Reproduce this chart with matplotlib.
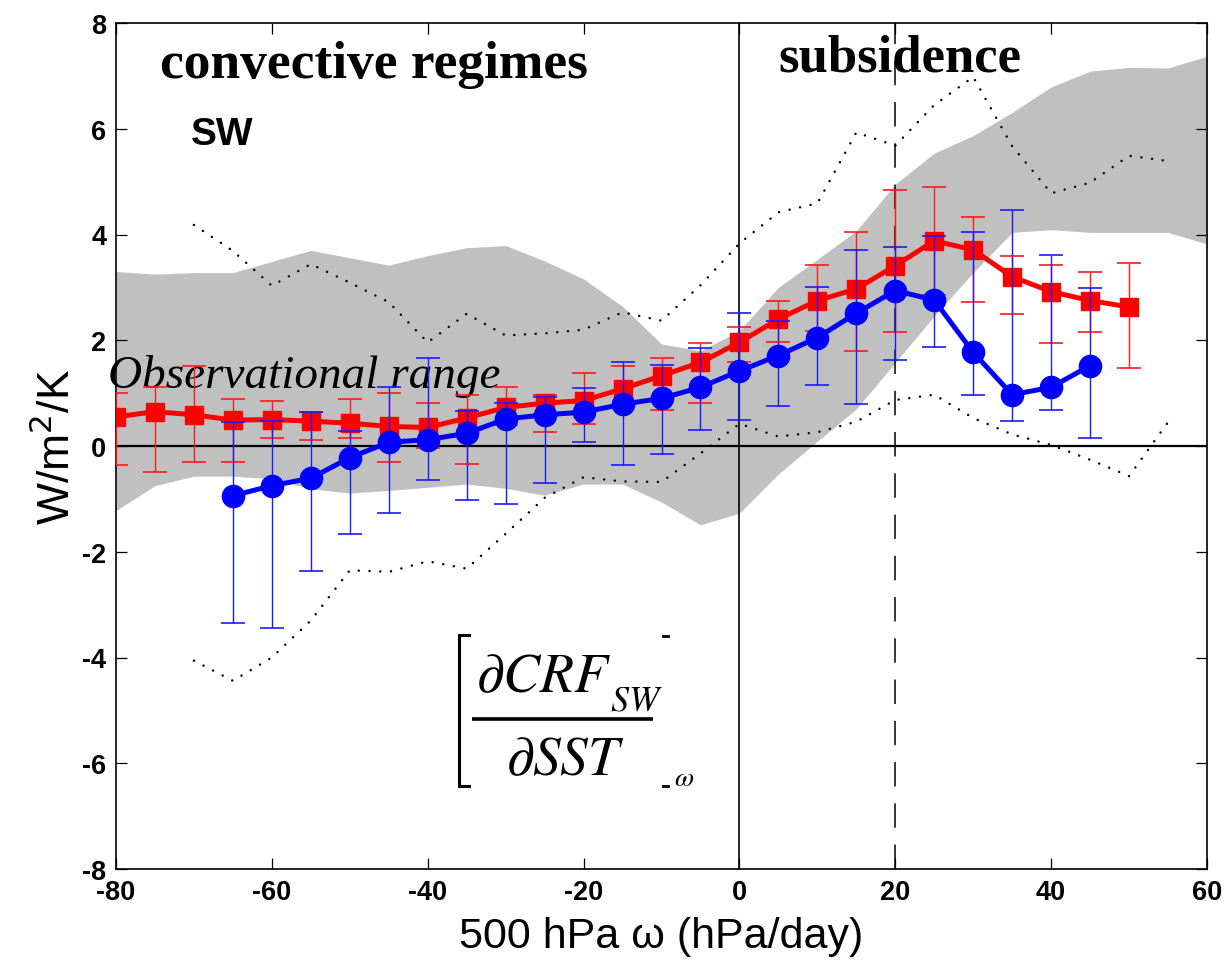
import numpy as np
import matplotlib
matplotlib.use("Agg")
import matplotlib.pyplot as plt

# ---------------- data ----------------
x_red = [-80, -75, -70, -65, -60, -55, -50, -45, -40, -35, -30, -25, -20, -15,
         -10, -5, 0, 5, 10, 15, 20, 25, 30, 35, 40, 45, 50]
red = [0.55, 0.65, 0.59, 0.49, 0.50, 0.47, 0.43, 0.37, 0.35, 0.53, 0.73, 0.81, 0.86, 1.08,
       1.33, 1.58, 1.96, 2.40, 2.75, 2.97, 3.41, 3.88, 3.71, 3.20, 2.92, 2.75, 2.63]
red_hi = [1.00, 1.12, 1.52, 0.89, 0.86, 0.65, 0.88, 1.00, 0.81, 0.97, 1.12, 0.96, 1.39, 1.51,
          1.67, 1.95, 2.26, 2.75, 3.43, 4.04, 4.85, 4.90, 4.33, 3.59, 3.43, 3.30, 3.47]
red_lo = [-0.36, -0.49, -0.31, -0.30, 0.15, 0.12, 0.16, -0.31, -0.04, -0.34, 0.40, 0.27, 0.41, 0.76,
          0.68, 0.81, 1.58, 1.97, 2.17, 1.80, 2.15, 2.85, 2.73, 2.50, 1.95, 2.15, 1.47]

x_blue = [-65, -60, -55, -50, -45, -40, -35, -30, -25, -20, -15, -10, -5, 0,
          5, 10, 15, 20, 25, 30, 35, 40, 45]
blue = [-0.94, -0.75, -0.61, -0.22, 0.07, 0.12, 0.24, 0.51, 0.59, 0.64, 0.79, 0.90, 1.11, 1.42,
        1.71, 2.05, 2.51, 2.94, 2.76, 1.77, 0.97, 1.11, 1.52]
blue_hi = [0.46, 0.48, 0.65, 0.29, 1.12, 1.67, 0.66, 0.81, 0.93, 1.09, 1.58, 1.53, 1.86, 2.52,
           2.36, 3.01, 3.71, 3.77, 3.98, 4.04, 4.47, 3.61, 2.98]
blue_lo = [-3.35, -3.45, -2.36, -1.67, -1.27, -0.64, -1.02, -1.10, -0.70, 0.08, -0.35, -0.16, 0.31, 0.49,
           0.76, 1.16, 0.79, 1.63, 1.87, 0.96, 0.48, 0.69, 0.16]

x_band = [-80, -75, -70, -65, -60, -55, -50, -45, -40, -35, -30, -25, -20, -15, -10,
          -5, 0, 5, 10, 15, 20, 25, 30, 35, 40, 45, 50, 55, 60]
band_hi = [3.30, 3.25, 3.28, 3.28, 3.49, 3.70, 3.56, 3.42, 3.60, 3.75, 3.79, 3.50, 3.16, 2.64, 1.93,
           1.80, 2.18, 3.00, 3.53, 4.07, 4.95, 5.54, 5.87, 6.31, 6.79, 7.09, 7.16, 7.15, 7.37]
band_lo = [-1.22, -0.75, -0.57, -0.57, -0.62, -0.81, -0.89, -0.84, -0.78, -0.72, -0.80, -0.93, -0.72, -0.72, -1.06,
           -1.49, -1.27, -0.53, 0.09, 0.70, 1.58, 2.46, 3.28, 4.04, 4.09, 4.04, 4.04, 4.04, 3.82]

x_dot = [-70, -65, -60, -55, -50, -45, -40, -35, -30, -25, -20, -15, -10,
         -5, 0, 5, 10, 15, 20, 25, 30, 35, 40, 45, 50, 55]
dot_hi = [4.18, 3.69, 3.03, 3.44, 3.09, 2.72, 1.96, 2.50, 2.09, 2.13, 2.20, 2.53, 2.37,
          3.04, 3.83, 4.42, 4.59, 5.93, 5.68, 6.45, 6.98, 5.67, 4.78, 4.98, 5.49, 5.39]
dot_lo = [-4.06, -4.44, -4.00, -3.30, -2.35, -2.38, -2.18, -2.32, -1.66, -0.98, -0.59, -0.67, -0.68,
          -0.14, 0.42, 0.18, 0.26, 0.46, 0.87, 0.97, 0.53, 0.22, 0.02, -0.26, -0.57, 0.45]

x_ticks = [-80, -60, -40, -20, 0, 20, 40, 60]
y_ticks = [-8, -6, -4, -2, 0, 2, 4, 6, 8]

# ---------------- figure ----------------
plt.rcParams['font.family'] = ['Liberation Sans', 'DejaVu Sans']
plt.rcParams['axes.unicode_minus'] = False
fig = plt.figure(figsize=(12.27, 9.62), dpi=100)
ax = fig.add_axes([116 / 1227, 1 - 870 / 962, 1091 / 1227, 846 / 962])


def P(px, py):
    """pixel position (from top-left of figure) -> axes fraction"""
    return (px - 116) / 1091, (870 - py) / 846


ax.fill_between(x_band, band_lo, band_hi, color='#c0c0c0', lw=0, zorder=1)
for yy in (dot_hi, dot_lo):
    ax.plot(x_dot, yy, color='black', lw=1.8, ls=(0, (0.01, 4.3)),
            dash_capstyle='round', zorder=2)

ax.axhline(0, color='black', lw=1.6, zorder=3)
ax.axvline(0, color='black', lw=1.2, zorder=3)
ax.axvline(20, color='black', lw=1.1, dashes=(16, 11), zorder=3)

red_a = np.array(red)
blue_a = np.array(blue)
ax.errorbar(x_red, red, yerr=[red_a - np.array(red_lo), np.array(red_hi) - red_a],
            fmt='none', ecolor='#ff1a1a', elinewidth=1.0, capsize=8.5, capthick=1.2, zorder=4)
ax.plot(x_red, red, color='#ff0000', lw=3.6, marker='s', ms=13, mec='#ff0000', zorder=5)
ax.errorbar(x_blue, blue, yerr=[blue_a - np.array(blue_lo), np.array(blue_hi) - blue_a],
            fmt='none', ecolor='#1a1aff', elinewidth=1.0, capsize=8.5, capthick=1.2, zorder=6)
ax.plot(x_blue, blue, color='#0000ff', lw=3.6, marker='o', ms=16, mec='#0000ff', zorder=7)

ax.set_xlim(-80, 60)
ax.set_ylim(-8, 8)
ax.set_xticks(x_ticks)
ax.set_yticks(y_ticks)
ax.tick_params(direction='in', length=8, width=0.9, top=True, right=True,
               labelsize=19.5, pad=7)
for lab in ax.get_xticklabels() + ax.get_yticklabels():
    lab.set_fontweight('bold')
for s in ax.spines.values():
    s.set_linewidth(1.2)

ax.set_xlabel('500 hPa \u03c9 (hPa/day)', fontsize=31, labelpad=8)
ax.set_ylabel('W/m$^2$/K', fontsize=32, labelpad=2)

serif = ['Liberation Serif', 'DejaVu Serif']
ax.text(*P(160, 78), 'convective regimes', transform=ax.transAxes, family=serif,
        fontweight='bold', fontsize=38.5, va='baseline', ha='left')
ax.text(*P(778, 72), 'subsidence', transform=ax.transAxes, family=serif,
        fontweight='bold', fontsize=38, va='baseline', ha='left')
ax.text(*P(191, 145), 'SW', transform=ax.transAxes, fontweight='bold', fontsize=28,
        va='baseline', ha='left')
ax.text(*P(108, 388), 'Observational range', transform=ax.transAxes, family=serif,
        style='italic', fontsize=34, va='baseline', ha='left')

# formula  [ dCRF_SW / dSST ]_omega
ax.text(*P(476, 692), r'$\partial CRF$', transform=ax.transAxes,
        fontsize=40, math_fontfamily='stix', va='baseline', ha='left')
ax.text(*P(610, 711), r'$SW$', transform=ax.transAxes,
        fontsize=26, math_fontfamily='stix', va='baseline', ha='left')
ax.text(*P(506, 775), r'$\partial SST$', transform=ax.transAxes,
        fontsize=40, math_fontfamily='stix', va='baseline', ha='left')
ax.text(*P(674, 786), r'$\omega$', transform=ax.transAxes,
        fontsize=20, math_fontfamily='stix', va='baseline', ha='left')
x0, y0 = P(472, 720)
x1, _ = P(653, 720)
ax.plot([x0, x1], [y0, y0], transform=ax.transAxes, color='black', lw=2.6,
        solid_capstyle='butt', zorder=8)
bx, bt = P(459, 636)
bx2, bb = P(469, 787)
ax.plot([bx2, bx, bx, bx2], [bt, bt, bb, bb], transform=ax.transAxes,
        color='black', lw=2.2, solid_joinstyle='miter', zorder=8)
for yy in (637, 787):
    a, b_ = P(663, yy)
    c, _ = P(668, yy)
    ax.plot([a, c], [b_, b_], transform=ax.transAxes, color='black', lw=2.0, zorder=8)

fig.savefig('out.png', dpi=100)
